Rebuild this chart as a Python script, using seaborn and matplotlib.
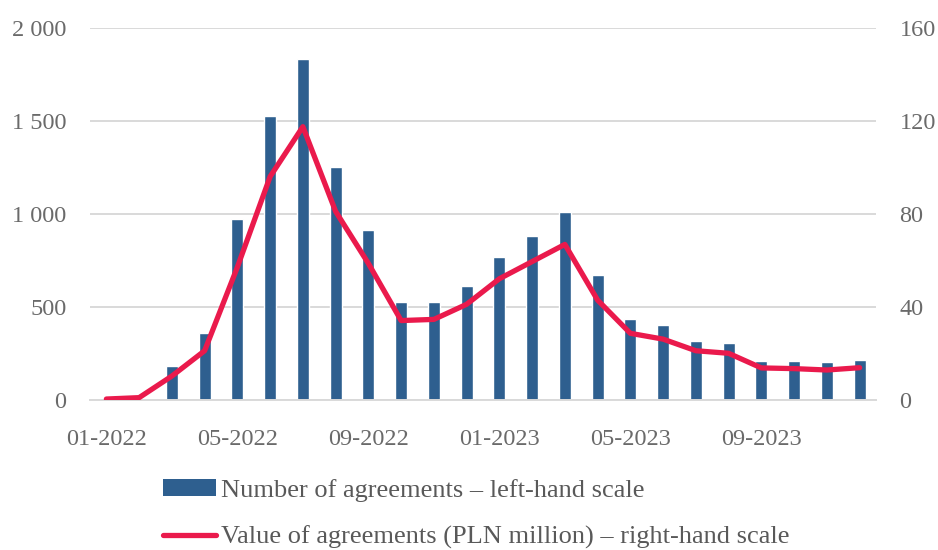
import numpy as np
import pandas as pd
import matplotlib
matplotlib.use("Agg")
import matplotlib.pyplot as plt
import seaborn as sns
from matplotlib.patches import Patch
from matplotlib.lines import Line2D

months = ["01-2022", "02-2022", "03-2022", "04-2022", "05-2022", "06-2022",
          "07-2022", "08-2022", "09-2022", "10-2022", "11-2022", "12-2022",
          "01-2023", "02-2023", "03-2023", "04-2023", "05-2023", "06-2023",
          "07-2023", "08-2023", "09-2023", "10-2023", "11-2023", "12-2023"]
agreements_count = [8, 4, 180, 360, 972, 1526, 1833, 1252, 912, 523, 525, 613,
                    767, 879, 1009, 668, 431, 399, 317, 302, 207, 205, 200, 211]
agreements_value = [0.2, 0.8, 10.1, 21, 57, 96, 117.5, 81, 58.6, 34, 34.5, 41,
                    52, 59.4, 66.8, 42.8, 28.5, 26, 21, 19.9, 13.6, 13.3, 12.7, 13.7]
left_ticks = [0, 500, 1000, 1500, 2000]
left_labels = ["0", "500", "1 000", "1 500", "2 000"]
right_ticks = [0, 40, 80, 120, 160]
label_every = 4
legend_labels = ["Number of agreements \u2013 left-hand scale",
                 "Value of agreements (PLN million) \u2013 right-hand scale"]

BAR = "#2E5F8F"
LINE = "#EA1A4C"
GRID = "#D9D9D9"
TXT = "#6A6A6A"
TICK_FS = 17.5
LEG_FS = 19

sns.set_theme(style="white")
plt.rcParams["font.family"] = ["Liberation Serif", "DejaVu Serif"]

df = pd.DataFrame({"month": months, "count": agreements_count,
                   "value": agreements_value})
df["pos"] = np.arange(len(df))

fig = plt.figure(figsize=(9.38, 5.5), dpi=100)
ax = fig.add_axes([90 / 938, 150.5 / 550, 786 / 938, 371.5 / 550])

sns.barplot(data=df, x="month", y="count", color=BAR, width=0.37,
            saturation=1, ax=ax, zorder=2)
ax.set_xlim(-0.5, len(months) - 0.5)
ax.set_ylim(0, 2000)
ax.set_yticks(left_ticks)
ax.set_yticklabels(left_labels)
ax.grid(axis="y", color=GRID, linewidth=1.4, zorder=0)
ax.set_axisbelow(True)
ax.set_xlabel("")
ax.set_ylabel("")

# x tick labels at every 4th month, tick marks at category boundaries
ax.set_xticks(df["pos"][::label_every])
ax.set_xticklabels(df["month"][::label_every])
ax.set_xticks(np.arange(-0.5, len(months), label_every), minor=True)
ax.tick_params(axis="x", which="major", length=0, pad=21, labelsize=TICK_FS, colors=TXT)
ax.tick_params(axis="x", which="minor", length=7, width=1.4, color=GRID)
ax.tick_params(axis="y", length=0, pad=17, labelsize=TICK_FS, colors=TXT)

for s in ["top", "left", "right"]:
    ax.spines[s].set_visible(False)
ax.spines["bottom"].set_color(GRID)
ax.spines["bottom"].set_linewidth(1.4)

ax2 = ax.twinx()
sns.lineplot(data=df, x="pos", y="value", color=LINE, linewidth=3.8, ax=ax2,
             zorder=3, solid_capstyle="round", solid_joinstyle="round")
ax2.set_ylim(0, 160)
ax2.set_yticks(right_ticks)
ax2.tick_params(axis="y", length=0, pad=17, labelsize=TICK_FS, colors=TXT)
ax2.set_ylabel("")
for s in ["top", "left", "right", "bottom"]:
    ax2.spines[s].set_visible(False)
ax2.grid(False)

handles = [Patch(facecolor=BAR, edgecolor="none"),
           Line2D([0], [0], color=LINE, linewidth=3.8, solid_capstyle="round")]
leg = fig.legend(handles, legend_labels, loc="upper left",
                 bbox_to_anchor=(163 / 938, 1 - 479 / 550), frameon=False,
                 fontsize=LEG_FS, handlelength=2.0, handleheight=0.6,
                 handletextpad=0.18, labelspacing=0.9, borderaxespad=0,
                 borderpad=0)
for t in leg.get_texts():
    t.set_color("#595959")

fig.savefig("out.png", dpi=100)
